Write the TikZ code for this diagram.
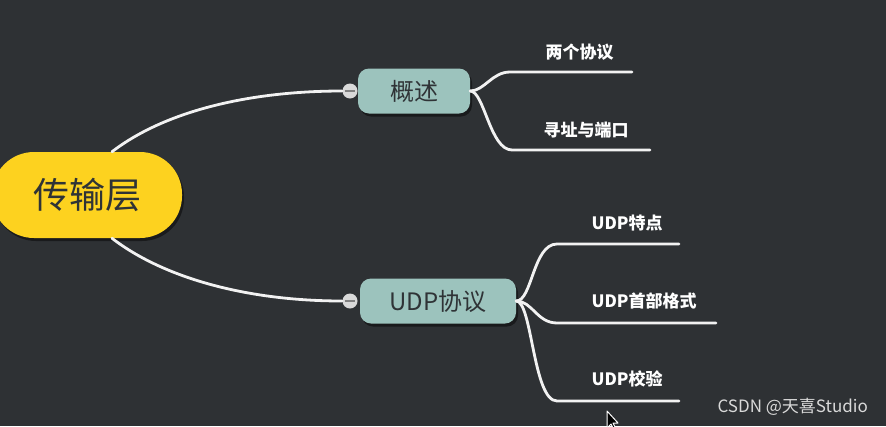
\documentclass[tikz,border=0pt]{standalone}
\usepackage{fontspec}
\setmainfont{Noto Sans CJK SC}
\usepackage{tikz}
\usetikzlibrary{shadows,positioning}
\usepackage{xcolor}
\definecolor{board}{HTML}{2E3134}
\definecolor{gold}{HTML}{FDD21F}
\definecolor{sage}{HTML}{9CC3BD}
\definecolor{ink}{HTML}{2F3336}
\definecolor{wire}{HTML}{F2F2F2}
\definecolor{mark}{HTML}{D9D9D9}

\begin{document}
\begin{tikzpicture}[
      x=1pt, y=-1pt,
      rootbox/.style={
        fill=gold, rounded corners=42pt, minimum width=190pt, minimum height=86pt,
        text=ink, font=\fontsize{36}{36}\selectfont,
        drop shadow={shadow xshift=2pt, shadow yshift=-3pt, opacity=0.45, fill=black}
      },
      topic/.style={
        fill=sage, rounded corners=11pt, minimum height=45pt, inner xsep=0pt,
        text=ink, font=\fontsize{24}{24}\selectfont,
        drop shadow={shadow xshift=2pt, shadow yshift=-3pt, opacity=0.45, fill=black}
      },
      fold/.style={
        circle, fill=mark, minimum size=15pt, inner sep=0pt,
        path picture={\draw[line width=2pt, gray]
          ([xshift=-5pt]path picture bounding box.center) --
          ([xshift=5pt]path picture bounding box.center);}
      },
      leaf/.style={anchor=west, text=white, font=\bfseries\fontsize{17}{17}\selectfont},
      link/.style={draw=wire, line width=2.8pt, line cap=round}
    ]
    \fill[board] (0,0) rectangle (886,426);
    \clip (0,0) rectangle (886,426);

    \node[rootbox] (root) at (87,195) {传输层};
    \node[topic, minimum width=112pt] (intro) at (414,91) {概述};
    \node[topic, minimum width=156pt] (udp) at (438,301) {UDP协议};
    \node[fold] (introfold) at (350,91) {};
    \node[fold] (udpfold) at (350,301) {};

    \coordinate (twoa) at (510,72);   \coordinate (twob) at (632,72);
    \coordinate (porta) at (512,150); \coordinate (portb) at (650,150);
    \coordinate (feata) at (557,244); \coordinate (featb) at (679,244);
    \coordinate (heada) at (557,323); \coordinate (headb) at (716,323);
    \coordinate (checka) at (557,401); \coordinate (checkb) at (679,401);

    \node[leaf] (two) at (542,52) {两个协议};
    \node[leaf] (port) at (540,130) {寻址与端口};
    \node[leaf] (feat) at (588,223) {UDP特点};
    \node[leaf] (head) at (588,301) {UDP首部格式};
    \node[leaf] (check) at (588,379) {UDP校验};

    \draw[link] (root.60) .. controls +(52,-40) and +(-95,0) .. (introfold.west);
    \draw[link] (root.-60) .. controls +(52,40) and +(-95,0) .. (udpfold.west);

    \draw[link] (intro.east) .. controls +(14,0) and +(-18,0) .. (twoa) -- (twob);
    \draw[link] (intro.east) .. controls +(14,0) and +(-22,0) .. (porta) -- (portb);
    \draw[link] (udp.east) .. controls +(16,0) and +(-24,0) .. (feata) -- (featb);
    \draw[link] (udp.east) .. controls +(16,0) and +(-20,0) .. (heada) -- (headb);
    \draw[link] (udp.east) .. controls +(16,0) and +(-24,0) .. (checka) -- (checkb);

    \node[anchor=west, text=mark, font=\fontsize{17}{17}\selectfont] (credit) at (714,407) {CSDN @天喜Studio};

    \draw[fill=black, draw=white, line width=1pt, line join=round]
      (607,411) -- (607,428) -- (611,424) -- (614,430) -- (616,429) -- (613,423) -- (618,423) -- cycle;
  \end{tikzpicture}
\end{document}
